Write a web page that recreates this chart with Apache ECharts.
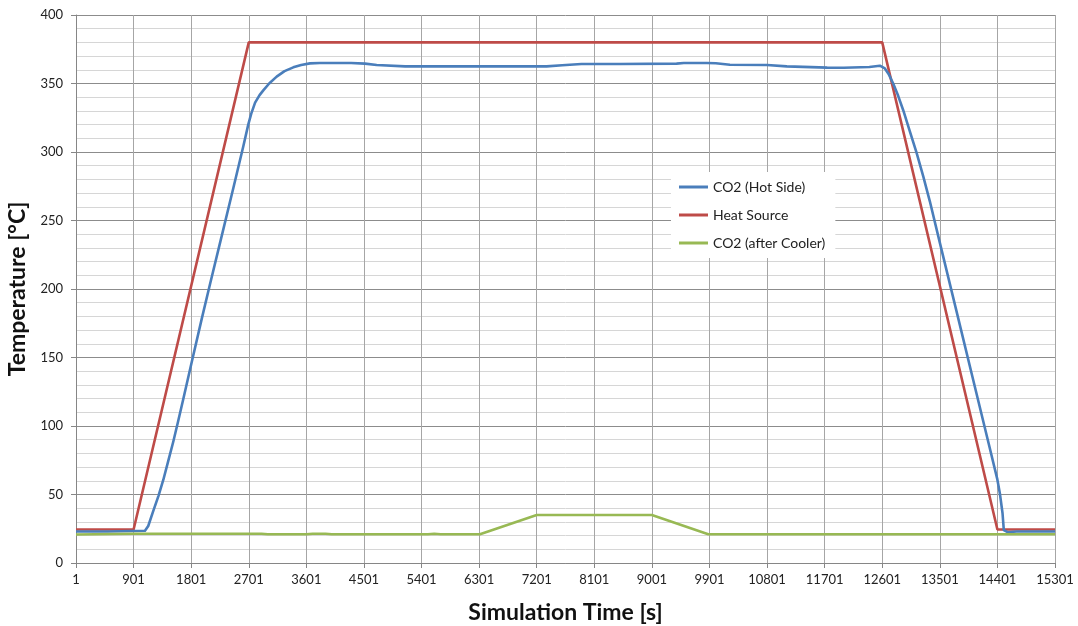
<!DOCTYPE html>
<html>
<head>
<meta charset="utf-8">
<script src="https://cdn.jsdelivr.net/npm/echarts@6/dist/echarts.min.js"></script>
<style>
html,body{margin:0;padding:0;background:#fff;}
#chart{width:1078px;height:626px;}
</style>
</head>
<body>
<div id="chart"></div>
<script>
// Tick labels on the time axis are "1, 901, 1801 ..." (time starts at 1 s)
const timeStart = 1;
const timeEnd = 15301;
const timeStep = 900;

// Heat Source
const heatT = [1, 901, 2701, 12601, 14401, 15301];
const heatV = [24.5, 24.5, 380, 380, 24.5, 24.5];

// CO2 (Hot Side)
const hotT = [1, 500, 1079, 1130, 1209, 1290, 1365, 1440, 1521, 1600, 1677, 1809, 1965, 2095, 2251, 2459, 2615, 2693, 2740, 2800, 2870, 2928, 3020, 3137, 3260, 3397, 3520, 3657, 3813, 4300, 4517, 4700, 5145, 6000, 7356, 7600, 7900, 8500, 9387, 9500, 9860, 10000, 10220, 10800, 11110, 11740, 12000, 12400, 12564, 12590, 12642, 12700, 12772, 12850, 12929, 13040, 13137, 13240, 13345, 13500, 13750, 14000, 14250, 14400, 14439, 14481, 14501, 14560, 14700, 15301];
const hotV = [23, 23, 23.5, 27, 38, 49, 60.6, 74, 88.5, 104, 119.5, 146.5, 178, 203.5, 233.5, 273.5, 304, 320, 328, 336, 341.5, 345, 350, 355, 359, 361.8, 363.5, 364.7, 365, 365, 364.5, 363.5, 362.5, 362.5, 362.5, 363.3, 364.2, 364.2, 364.5, 365, 365, 364.8, 363.7, 363.5, 362.5, 361.6, 361.5, 362, 363, 362.8, 361, 357, 350, 341, 330.5, 314, 299.5, 282.5, 264, 234, 186, 138, 90, 61, 50.9, 36.3, 24, 22.5, 23, 23];

// CO2 (after Cooler)
const coolT = [1, 900, 2900, 3000, 3600, 3700, 3900, 4000, 5500, 5600, 5700, 6314, 7201, 9001, 9882, 15301];
const coolV = [20.8, 21.3, 21.3, 21, 21, 21.4, 21.4, 21, 21, 21.3, 21, 21, 35, 35, 21, 21];

const yTicks = [0, 50, 100, 150, 200, 250, 300, 350, 400];

function pairs(t, v) { return t.map((x, i) => [x - timeStart, v[i]]); }

const chart = echarts.init(document.getElementById('chart'), null, {renderer: 'canvas'});
const font = 'Lato';
chart.setOption({
  animation: false,
  backgroundColor: '#ffffff',
  grid: {left: 76, right: 23, top: 15, bottom: 63, containLabel: false, outerBoundsMode: 'none'},
  legend: {
    orient: 'vertical',
    left: 671,
    top: 172,
    padding: [8, 10, 8, 8],
    backgroundColor: '#ffffff',
    itemWidth: 29,
    itemHeight: 3,
    itemGap: 14,
    icon: 'rect',
    textStyle: {fontFamily: font, fontSize: 14, color: '#222', lineHeight: 14},
    data: ['CO2 (Hot Side)', 'Heat Source', 'CO2 (after Cooler)']
  },
  xAxis: {
    type: 'value',
    min: 0,
    max: timeEnd - timeStart,
    interval: timeStep,
    name: 'Simulation Time [s]',
    nameLocation: 'middle',
    nameGap: 38,
    nameTextStyle: {fontFamily: font, fontSize: 23, fontWeight: 'bold', color: '#111'},
    axisLine: {show: true, lineStyle: {color: '#868686', width: 1}},
    axisTick: {show: true, length: 5, lineStyle: {color: '#868686'}},
    axisLabel: {fontFamily: font, fontSize: 13, color: '#222', margin: 10,
      formatter: v => String(v + timeStart)},
    splitLine: {show: true, lineStyle: {color: '#a6a6a6', width: 1}}
  },
  yAxis: {
    type: 'value',
    min: yTicks[0],
    max: yTicks[yTicks.length - 1],
    interval: 50,
    name: 'Temperature [°C]',
    nameLocation: 'middle',
    nameGap: 38,
    nameRotate: 90,
    nameTextStyle: {fontFamily: font, fontSize: 23, fontWeight: 'bold', color: '#111'},
    axisLine: {show: true, lineStyle: {color: '#868686', width: 1}},
    axisTick: {show: true, length: 5, lineStyle: {color: '#868686'}},
    axisLabel: {fontFamily: font, fontSize: 13, color: '#222', margin: 13},
    splitLine: {show: true, lineStyle: {color: '#8c8c8c', width: 1}},
    minorTick: {show: false, splitNumber: 5},
    minorSplitLine: {show: true, lineStyle: {color: '#d6d6d6', width: 1}}
  },
  series: [
    {name: 'CO2 (Hot Side)', type: 'line', data: pairs(hotT, hotV), showSymbol: false,
      lineStyle: {color: '#4A7EBB', width: 2.6, join: 'round'}, itemStyle: {color: '#4A7EBB'}, z: 3},
    {name: 'Heat Source', type: 'line', data: pairs(heatT, heatV), showSymbol: false,
      lineStyle: {color: '#BE4B48', width: 2.6}, itemStyle: {color: '#BE4B48'}, z: 2},
    {name: 'CO2 (after Cooler)', type: 'line', data: pairs(coolT, coolV), showSymbol: false,
      lineStyle: {color: '#98B954', width: 2.6}, itemStyle: {color: '#98B954'}, z: 4}
  ]
});
</script>
</body>
</html>
